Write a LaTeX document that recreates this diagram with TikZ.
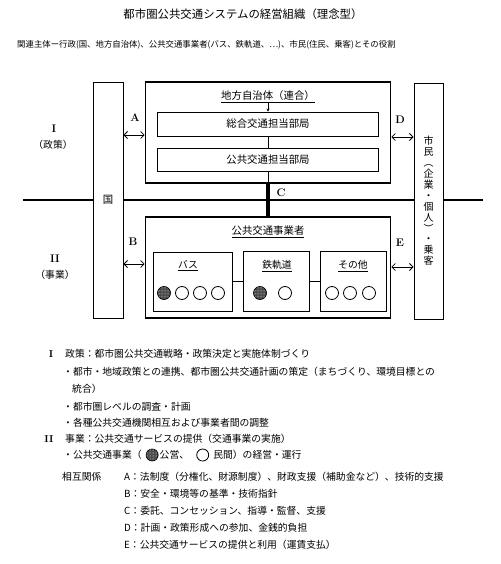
\documentclass[tikz,border=0pt]{standalone}
\usepackage{fontspec}
\newfontfamily\jp{Noto Sans CJK JP}
\usetikzlibrary{arrows.meta,patterns,positioning}
\begin{document}
\begin{tikzpicture}[x=1pt,y=-1pt,
  jpt/.style={font=\jp\fontsize{9.8}{12}\selectfont, inner sep=0pt},
  jpbox/.style={font=\jp\fontsize{10.4}{12}\selectfont, inner sep=0pt},
  body/.style={jpt, anchor=west},
  outerbox/.style={draw, line width=1.6pt, inner sep=0pt},
  innerbox/.style={draw, line width=0.9pt, inner sep=0pt},
  lbl/.style={font=\bfseries\fontsize{11}{12}\selectfont, inner sep=0pt},
  dbl/.style={line width=0.8pt, {Straight Barb[length=3.5pt,width=7pt]}-{Straight Barb[length=3.5pt,width=7pt]}},
  hline/.style={line width=2pt},
  thinline/.style={line width=0.8pt},
  pubc/.style={circle, draw, line width=0.7pt, minimum size=13pt, inner sep=0pt, fill=black!70, postaction={pattern=dots, pattern color=white}},
  privc/.style={circle, draw, line width=0.8pt, minimum size=13pt, inner sep=0pt, fill=white},
  pubs/.style={pubc, minimum size=12pt},
  privs/.style={privc, minimum size=12pt},
  vert/.style={font=\jp\fontsize{10}{10.9}\selectfont, align=center}
]
\useasboundingbox (0,0) rectangle (500,564);

% title
\node[font=\jp\fontsize{11.4}{13}\selectfont, inner sep=0pt] (title) at (243,14) {都市圏公共交通システムの経営組織（理念型）};
\node[font=\jp\fontsize{8.4}{10}\selectfont, inner sep=0pt, anchor=west] (sub) at (17,45) {関連主体ー行政(国、地方自治体)、公共交通事業者(バス、鉄軌道、…)、市民(住民、乗客)とその役割};

% boxes
\node[innerbox, minimum width=30pt, minimum height=236pt, jpbox] (kuni) at (108,200) {国};
\node[innerbox, minimum width=29pt, minimum height=236pt, vert] (shimin) at (428.5,201) {市\\民\\︵\\企\\業\\・\\個\\人\\︶\\・\\乗\\客};

\node[outerbox, minimum width=245pt, minimum height=101pt] (top) at (268,132.5) {};
\node[jpbox] (jt) at (268,97) {\underline{地方自治体（連合）}};
\node[innerbox, minimum width=221pt, minimum height=24pt, jpbox] (b1) at (268,124) {総合交通担当部局};
\node[innerbox, minimum width=221pt, minimum height=23pt, jpbox] (b2) at (268,159.5) {公共交通担当部局};

\node[outerbox, minimum width=245pt, minimum height=101pt] (low) at (268,267.5) {};
\node[jpbox] (lt) at (268,232) {\underline{公共交通事業者}};
\node[innerbox, minimum width=79pt, minimum height=59pt] (bus) at (192.5,281.5) {};
\node[innerbox, minimum width=66pt, minimum height=60pt] (rail) at (276,281.5) {};
\node[innerbox, minimum width=66pt, minimum height=60pt] (oth) at (353,281.5) {};
\node[jpt] (busl) at (188,266) {\underline{バス}};
\node[jpt] (raill) at (277,266) {\underline{鉄軌道}};
\node[jpt] (othl) at (353,266) {\underline{その他}};

\node[pubc] (bus1) at (164,293) {};
\node[privc] (bus2) at (182,293) {};
\node[privc] (bus3) at (200,293) {};
\node[privc] (bus4) at (218,293) {};
\node[pubc] (rail1) at (260,293) {};
\node[privc] (rail2) at (285,293) {};
\node[privc] (oth1) at (332,293) {};
\node[privc] (oth2) at (350,293) {};
\node[privc] (oth3) at (369,293) {};

% connectors inside
\draw[-{Stealth[length=3pt,width=3pt]}, line width=0.6pt] (jt.south) -- (b1.north);
\draw[thinline] (b1.south) -- (b2.north);
\draw[thinline] (b2.south) -- (top.south);
\draw[thinline] (bus) -- (rail);
\draw[thinline] (rail) -- (oth);

% main horizontal line
\coordinate (hl) at (23,200);
\coordinate (hr) at (483,200);
\draw[hline] (hl) -- (kuni.west |- hl);
\draw[hline] (kuni.east |- hl) -- (shimin.west |- hl);
\draw[hline] (shimin.east |- hl) -- (hr);
\draw[line width=4pt] (top.south) -- (low.north);

% relation arrows
\coordinate (yA) at (0,135);
\coordinate (yB) at (0,264);
\coordinate (yD) at (0,137);
\coordinate (yE) at (0,267);
\draw[dbl] (kuni.east |- yA) -- (top.west |- yA);
\draw[dbl] (kuni.east |- yB) -- (low.west |- yB);
\draw[dbl] (top.east |- yD) -- (shimin.west |- yD);
\draw[dbl] (low.east |- yE) -- (shimin.west |- yE);

\node[lbl] (lA) at (135,118) {A};
\node[lbl] (lB) at (133,242) {B};
\node[lbl] (lC) at (281,193) {C};
\node[lbl] (lD) at (400,120) {D};
\node[lbl] (lE) at (400,243) {E};

% side labels
\node[lbl] (r1) at (54,129) {I};
\node[jpt] (r1t) at (53,145) {（政策）};
\node[lbl] (r2) at (55,259) {II};
\node[jpt] (r2t) at (55,275) {（事業）};

% explanation text
\node[lbl, font=\bfseries\fontsize{10}{12}\selectfont] (t1n) at (51,354) {I};
\node[body] (t1) at (65,354) {政策：都市圏公共交通戦略・政策決定と実施体制づくり};
\node[body] (t2) at (63,372) {・都市・地域政策との連携、都市圏公共交通計画の策定（まちづくり、環境目標との};
\node[body] (t3) at (72,389) {統合）};
\node[body] (t4) at (63,407) {・都市圏レベルの調査・計画};
\node[body] (t5) at (63,423) {・各種公共交通機関相互および事業者間の調整};
\node[lbl, font=\bfseries\fontsize{10}{12}\selectfont] (t6n) at (49,439) {II};
\node[body] (t6) at (65,439) {事業：公共交通サービスの提供（交通事業の実施）};
\node[body] (t7a) at (63,455) {・公共交通事業（};
\node[pubs, right=4pt of t7a] (t7c1) {};
\node[body, right=1pt of t7c1] (t7b) {公営、};
\node[privs, right=7pt of t7b] (t7c2) {};
\node[body, right=4pt of t7c2] (t7d) {民間）の経営・運行};

\node[body] (t8h) at (62,477) {相互関係};
\node[body] (t8) at (124,477) {A：法制度（分権化、財源制度）、財政支援（補助金など）、技術的支援};
\node[body] (t9) at (124,494) {B：安全・環境等の基準・技術指針};
\node[body] (t10) at (124,511) {C：委託、コンセッション、指導・監督、支援};
\node[body] (t11) at (124,528) {D：計画・政策形成への参加、金銭的負担};
\node[body] (t12) at (124,545) {E：公共交通サービスの提供と利用（運賃支払）};
\end{tikzpicture}
\end{document}
